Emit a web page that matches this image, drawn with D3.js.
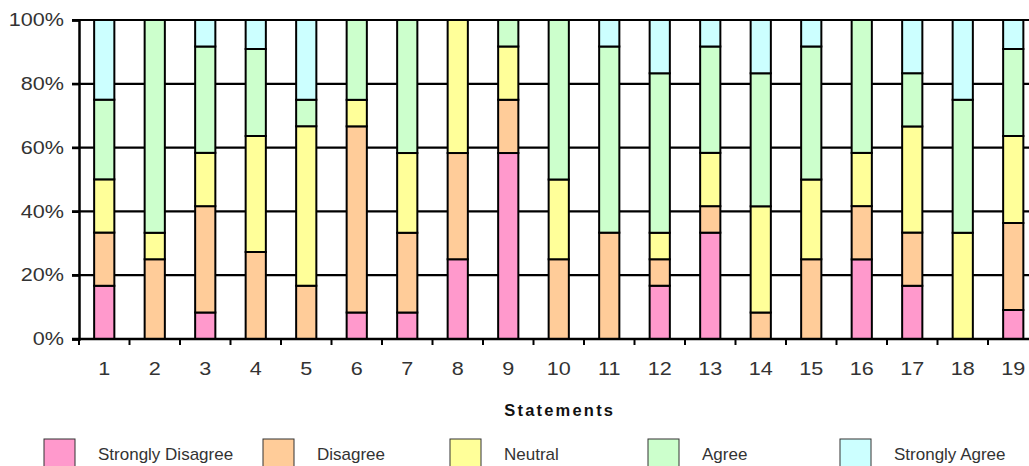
<!DOCTYPE html>
<html>
<head>
<meta charset="utf-8">
<script src="https://cdn.jsdelivr.net/npm/d3@7/dist/d3.min.js"></script>
<style>
  html, body { margin: 0; padding: 0; background: #fff; }
  svg { display: block; font-family: "Liberation Sans", Arial, sans-serif; }
</style>
</head>
<body>
<svg id="chart" width="1029" height="466"></svg>
<script>
// Statement numbers on the x axis
const statements = ["1","2","3","4","5","6","7","8","9","10","11","12","13","14","15","16","17","18","19"];

// Share of responses (%) per statement, one array per answer
const stronglyDisagree = [16.7, 0, 8.3, 0, 0, 8.3, 8.3, 25, 58.3, 0, 0, 16.7, 33.3, 0, 0, 25, 16.7, 0, 9.1];
const disagree         = [16.7, 25, 33.3, 27.3, 16.7, 58.3, 25, 33.3, 16.7, 25, 33.3, 8.3, 8.3, 8.3, 25, 16.7, 16.7, 0, 27.3];
const neutral          = [16.7, 8.3, 16.7, 36.4, 50, 8.3, 25, 41.7, 16.7, 25, 0, 8.3, 16.7, 33.3, 25, 16.7, 33.3, 33.3, 27.3];
const agree            = [25, 66.7, 33.3, 27.3, 8.3, 25, 41.7, 0, 8.3, 50, 58.3, 50, 33.3, 41.7, 41.7, 41.7, 16.7, 41.7, 27.3];
const stronglyAgree    = [25, 0, 8.3, 9.1, 25, 0, 0, 0, 0, 0, 8.3, 16.7, 8.3, 16.7, 8.3, 0, 16.7, 25, 9.1];

const seriesNames = ["Strongly Disagree", "Disagree", "Neutral", "Agree", "Strongly Agree"];
const seriesValues = [stronglyDisagree, disagree, neutral, agree, stronglyAgree];
const seriesColors = ["#ff99cc", "#ffcc99", "#ffff99", "#ccffcc", "#ccffff"];

const yTicks = [0, 0.2, 0.4, 0.6, 0.8, 1];
const xTitle = "Statements";

// ---- layout ----
const svg = d3.select("#chart");
const W = 1029;
const plot = { left: 79, top: 20, bottom: 339, step: 50.5 };
plot.right = plot.left + plot.step * statements.length;
const digitStretch = 1.2;

// rows for d3.stack
const rows = statements.map((s, i) => {
  const r = { statement: s };
  seriesNames.forEach((n, k) => { r[n] = seriesValues[k][i]; });
  return r;
});

const stack = d3.stack().keys(seriesNames).offset(d3.stackOffsetExpand);
const layers = stack(rows);

const x = d3.scaleBand()
  .domain(statements)
  .range([plot.left, plot.right])
  .paddingInner(0.6)
  .paddingOuter(0.3);

const y = d3.scaleLinear().domain([0, 1]).range([plot.bottom, plot.top]);

// horizontal gridlines (behind the bars)
svg.append("g")
  .selectAll("line")
  .data(yTicks.filter(t => t > 0))
  .join("line")
  .attr("x1", plot.left - 7)
  .attr("x2", W)
  .attr("y1", d => y(d))
  .attr("y2", d => y(d))
  .attr("stroke", "#000")
  .attr("stroke-width", 2.2);

// stacked bars
svg.append("g")
  .selectAll("g")
  .data(layers)
  .join("g")
  .attr("fill", (d, i) => seriesColors[i])
  .selectAll("rect")
  .data(d => d.filter(p => p[1] - p[0] > 0))
  .join("rect")
  .attr("x", p => x(p.data.statement))
  .attr("width", x.bandwidth())
  .attr("y", p => y(p[1]))
  .attr("height", p => y(p[0]) - y(p[1]))
  .attr("stroke", "#000")
  .attr("stroke-width", 2);

// y axis
const yAxis = svg.append("g")
  .attr("transform", `translate(${plot.left},0)`)
  .call(d3.axisLeft(y).tickValues(yTicks).tickFormat(d3.format(".0%")).tickSize(7).tickPadding(9));
yAxis.select(".domain").attr("stroke", "#000").attr("stroke-width", 2.5);
yAxis.selectAll(".tick line").attr("stroke", "#000").attr("stroke-width", 2.2);
yAxis.selectAll(".tick text")
  .attr("font-size", 18)
  .attr("font-family", "'Liberation Sans', Arial, sans-serif")
  .attr("fill", "#333")
  .attr("x", -15 / digitStretch)
  .attr("transform", `scale(${digitStretch},1)`);

// x axis: baseline, boundary ticks and statement labels
svg.append("line")
  .attr("x1", plot.left - 7).attr("x2", W)
  .attr("y1", plot.bottom).attr("y2", plot.bottom)
  .attr("stroke", "#000").attr("stroke-width", 2.5);

const boundaries = statements.map(s => x(s) - x.step() * x.paddingOuter());
svg.append("g")
  .selectAll("line")
  .data(boundaries)
  .join("line")
  .attr("x1", d => d).attr("x2", d => d)
  .attr("y1", plot.bottom).attr("y2", plot.bottom + 6)
  .attr("stroke", "#000").attr("stroke-width", 2);

const xAxis = svg.append("g")
  .attr("transform", `translate(0,${plot.bottom})`)
  .call(d3.axisBottom(x).tickSize(0).tickPadding(0));
xAxis.select(".domain").remove();
xAxis.selectAll(".tick text")
  .attr("font-size", 18)
  .attr("font-family", "'Liberation Sans', Arial, sans-serif")
  .attr("fill", "#333")
  .attr("y", 36)
  .attr("dy", null)
  .attr("transform", `scale(${digitStretch},1)`);

// axis title
svg.append("text")
  .attr("x", (plot.left + plot.right) / 2 + 1)
  .attr("y", 416)
  .attr("text-anchor", "middle")
  .attr("font-size", 16.5)
  .attr("font-weight", "bold")
  .attr("letter-spacing", 2.2)
  .attr("fill", "#111")
  .text(xTitle);

// legend
const legendX = [44, 263, 450, 648, 840];
const legend = svg.append("g")
  .selectAll("g")
  .data(seriesNames)
  .join("g")
  .attr("transform", (d, i) => `translate(${legendX[i]},439)`);
legend.append("rect")
  .attr("width", 31).attr("height", 30)
  .attr("fill", (d, i) => seriesColors[i])
  .attr("stroke", "#333").attr("stroke-width", 1);
legend.append("text")
  .attr("x", 54).attr("y", 21)
  .attr("font-size", 17)
  .attr("fill", "#333")
  .text(d => d);
</script>
</body>
</html>
